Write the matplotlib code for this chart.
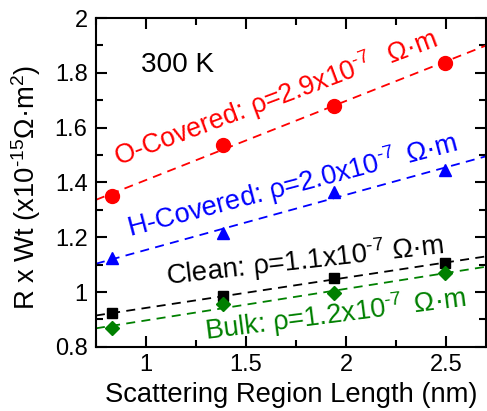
import numpy as np
import matplotlib
matplotlib.use("Agg")
import matplotlib.pyplot as plt
from matplotlib.ticker import MultipleLocator

plt.rcParams['font.family'] = ['Liberation Sans', 'DejaVu Sans']
plt.rcParams['mathtext.fontset'] = 'custom'
plt.rcParams['mathtext.rm'] = 'Liberation Sans'
plt.rcParams['mathtext.it'] = 'Liberation Sans'

length = [0.83, 1.385, 1.94, 2.495]
o_covered = [1.35, 1.535, 1.68, 1.836]
h_covered = [1.123, 1.215, 1.365, 1.445]
clean = [0.922, 0.985, 1.05, 1.105]
bulk = [0.868, 0.958, 0.998, 1.068]

series = [
    ("O-Covered", o_covered, "red", "o", 10, r"O-Covered: ρ=2.9x10$^{\text{-7}}\,$  Ω·m"),
    ("H-Covered", h_covered, "blue", "^", 8, r"H-Covered: ρ=2.0x10$^{\text{-7}}\,$ Ω·m"),
    ("Clean", clean, "black", "s", 7.5, r"Clean: ρ=1.1x10$^{\text{-7}}$ Ω·m"),
    ("Bulk", bulk, "green", "D", 7.5, r"Bulk: ρ=1.2x10$^{\text{-7}}\,$ Ω·m"),
]

fig = plt.figure(figsize=(4.87, 4.11), dpi=100)
ax = fig.add_axes([0.197, 0.156, 0.801, 0.800])

xs = np.array([0.75, 2.7])
for name, vals, col, mk, ms, lab in series:
    p = np.polyfit(length, vals, 1)
    ax.plot(xs, np.polyval(p, xs), ls=(0, (5, 3.5)), color=col, lw=1.3)
    ax.plot(length, vals, ls='none', marker=mk, color=col, ms=ms, mec=col)

ax.set_xlim(0.75, 2.7)
ax.set_ylim(0.8, 2.0)
ax.xaxis.set_minor_locator(MultipleLocator(0.25))
ax.yaxis.set_minor_locator(MultipleLocator(0.1))
ax.set_yticks([0.8, 1.0, 1.2, 1.4, 1.6, 1.8, 2.0])
ax.set_yticklabels(["0.8", "1", "1.2", "1.4", "1.6", "1.8", "2"])
ax.set_xticks([1.0, 1.5, 2.0, 2.5])
ax.set_xticklabels(["1", "1.5", "2", "2.5"])
ax.tick_params(which='both', direction='in', top=True, right=True, width=1.5, labelsize=17)
ax.tick_params(which='major', length=8)
ax.tick_params(axis='x', which='major', pad=5)
ax.tick_params(axis='y', which='major', pad=6)
ax.tick_params(which='minor', length=5)
for s in ax.spines.values():
    s.set_linewidth(1.5)

xl = ax.set_xlabel("Scattering Region Length (nm)", fontsize=19)
ax.xaxis.set_label_coords(0.5, -0.106)
yl = ax.set_ylabel(r"R x Wt (x10$^{\text{-15}}$Ω·m$^{2}$)", fontsize=19)
ax.yaxis.set_label_coords(-0.136, 0.486)

t300 = ax.text(0.975, 1.803, "300 K", fontsize=19.5, color='black')
specs = [
    (0.86, 1.46, 20.5, 342.7),
    (0.92, 1.2, 14.7, 340.6),
    (1.105, 1.024, 6.4, 279.0),
    (1.302, 0.826, 7.3, 264.0),
]
texts = []
for (x, y, ang, w), s in zip(specs, series):
    t = ax.text(x, y, s[5], fontsize=19, color=s[2], rotation=0, rotation_mode='anchor')
    texts.append((t, ang, w))

fig.canvas.draw()
renderer = fig.canvas.get_renderer()

def fit(t, target, attr='width'):
    for _ in range(3):
        bb = t.get_window_extent(renderer)
        t.set_fontsize(t.get_fontsize() * target / getattr(bb, attr))

for t, ang, w in texts:
    fit(t, w)
    t.set_rotation(ang)
fit(t300, 73)
fit(xl, 372)
fit(yl, 245, 'height')

fig.savefig("out.png", dpi=100)
